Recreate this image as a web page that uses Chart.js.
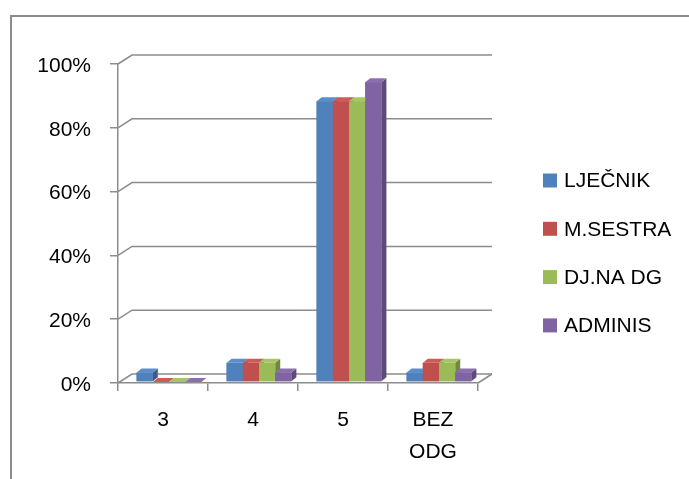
<!DOCTYPE html>
<html><head><meta charset="utf-8">
<script src="https://cdn.jsdelivr.net/npm/chart.js@4"></script>
<style>
html,body{margin:0;padding:0;background:#fff;overflow:hidden;width:689px;height:479px}
#frame{position:absolute;left:10px;top:15px;width:720px;height:520px;border-top:2px solid #8c8c8c;border-left:2px solid #8c8c8c;box-sizing:border-box}
#c{position:absolute;left:0;top:0}
</style></head><body>
<div id="frame"></div>
<canvas id="c" width="689" height="479"></canvas>
<script>
// ---- data ----
const categories = ['3', '4', '5', ['BEZ', 'ODG']];
const seriesNames = ['LJEČNIK', 'M.SESTRA', 'DJ.NA DG', 'ADMINIS'];
const ljecnik = [3, 6, 88, 3];
const mSestra = [0, 6, 88, 6];
const djNaDg = [0, 6, 88, 6];
const adminis = [0, 3, 94, 3];
const yTickLabels = ['0%', '20%', '40%', '60%', '80%', '100%'];

// ---- style ----
const FRONT = ['#4F81BD', '#C0504D', '#9BBB59', '#8064A2'];
const SIDE = ['#385E8B', '#8E3B39', '#71893F', '#5E4A78'];
const TOP = ['#5B8DC9', '#CD5B58', '#A6C566', '#8C70AE'];
const LINE = '#8c8c8c';
const FONT = '"Liberation Sans", Arial, sans-serif';
const WALL_DX = 14, WALL_DY = -9;
const SHIFT_X = 6, SHIFT_Y = -1;
const DEPTH_X = 5, DEPTH_Y = 4;

const pseudo3d = {
  id: 'pseudo3d',
  beforeDatasetsDraw(chart) {
    const ctx = chart.ctx, y = chart.scales.y, a = chart.chartArea;
    ctx.save();
    ctx.strokeStyle = LINE; ctx.lineWidth = 1.5;
    y.ticks.forEach(t => {
      const py = y.getPixelForValue(t.value);
      ctx.beginPath();
      ctx.moveTo(a.left, py);
      ctx.lineTo(a.left + WALL_DX, py + WALL_DY);
      ctx.lineTo(a.right + WALL_DX, py + WALL_DY);
      ctx.stroke();
    });
    ctx.beginPath();
    ctx.moveTo(a.right, a.bottom);
    ctx.lineTo(a.right + WALL_DX, a.bottom + WALL_DY);
    ctx.stroke();
    ctx.restore();
    ctx.save();
    ctx.translate(SHIFT_X, SHIFT_Y);
  },
  afterDatasetsDraw(chart) {
    const ctx = chart.ctx;
    const n = chart.data.labels.length;
    for (let j = 0; j < n; j++) {
      chart.data.datasets.forEach((ds, i) => {
        const el = chart.getDatasetMeta(i).data[j];
        const w = el.width, x1 = el.x - w / 2, x2 = el.x + w / 2;
        const base = el.base, top = Math.min(el.y, el.base);
        ctx.fillStyle = SIDE[i];
        ctx.beginPath();
        ctx.moveTo(x2, top); ctx.lineTo(x2 + DEPTH_X, top - DEPTH_Y);
        ctx.lineTo(x2 + DEPTH_X, base - DEPTH_Y); ctx.lineTo(x2, base);
        ctx.closePath(); ctx.fill();
        ctx.fillStyle = FRONT[i];
        ctx.fillRect(x1, top, w, base - top);
        ctx.fillStyle = TOP[i];
        ctx.beginPath();
        ctx.moveTo(x1, top); ctx.lineTo(x1 + DEPTH_X, top - DEPTH_Y);
        ctx.lineTo(x2 + DEPTH_X, top - DEPTH_Y); ctx.lineTo(x2, top);
        ctx.closePath(); ctx.fill();
      });
    }
    ctx.restore();
  }
};

const sideLegend = {
  id: 'sideLegend',
  afterDraw(chart) {
    const ctx = chart.ctx;
    ctx.save();
    ctx.font = '21px ' + FONT;
    ctx.textBaseline = 'middle';
    ctx.textAlign = 'left';
    chart.data.datasets.forEach((ds, i) => {
      const cy = 180.5 + i * 48.3;
      ctx.fillStyle = ds.backgroundColor;
      ctx.fillRect(543, cy - 7, 14, 14);
      ctx.fillStyle = '#000';
      ctx.fillText(ds.label, 564, cy + 1);
    });
    ctx.restore();
  }
};

const seriesValues = [ljecnik, mSestra, djNaDg, adminis];

new Chart(document.getElementById('c'), {
  type: 'bar',
  data: {
    labels: categories,
    datasets: seriesNames.map((name, i) => ({
      label: name,
      data: seriesValues[i],
      backgroundColor: FRONT[i],
      borderWidth: 0,
      categoryPercentage: 0.72,
      barPercentage: 1
    }))
  },
  options: {
    responsive: false,
    animation: false,
    layout: { padding: { left: 0, top: 64, right: 211, bottom: 0 } },
    plugins: { legend: { display: false }, tooltip: { enabled: false } },
    scales: {
      x: {
        afterFit(s) { s.height = 96; },
        grid: { display: true, drawOnChartArea: false, drawTicks: true, tickLength: 8, color: LINE, lineWidth: 1.5, offset: true },
        border: { display: true, color: LINE, width: 1.5 },
        ticks: { color: '#000', padding: 13, maxRotation: 0, autoSkip: false,
                 font: { family: FONT, size: 21, lineHeight: 1.52 } }
      },
      y: {
        min: 0, max: 100,
        afterFit(s) { s.width = 118; },
        grid: { display: true, drawOnChartArea: false, drawTicks: true, tickLength: 8, color: LINE, lineWidth: 1.5 },
        border: { display: true, color: LINE, width: 1.5 },
        ticks: { stepSize: 20, color: '#000', padding: 19, labelOffset: 2,
                 font: { family: FONT, size: 21 },
                 callback: (v, idx) => yTickLabels[idx] }
      }
    }
  },
  plugins: [pseudo3d, sideLegend]
});
</script>
</body></html>
